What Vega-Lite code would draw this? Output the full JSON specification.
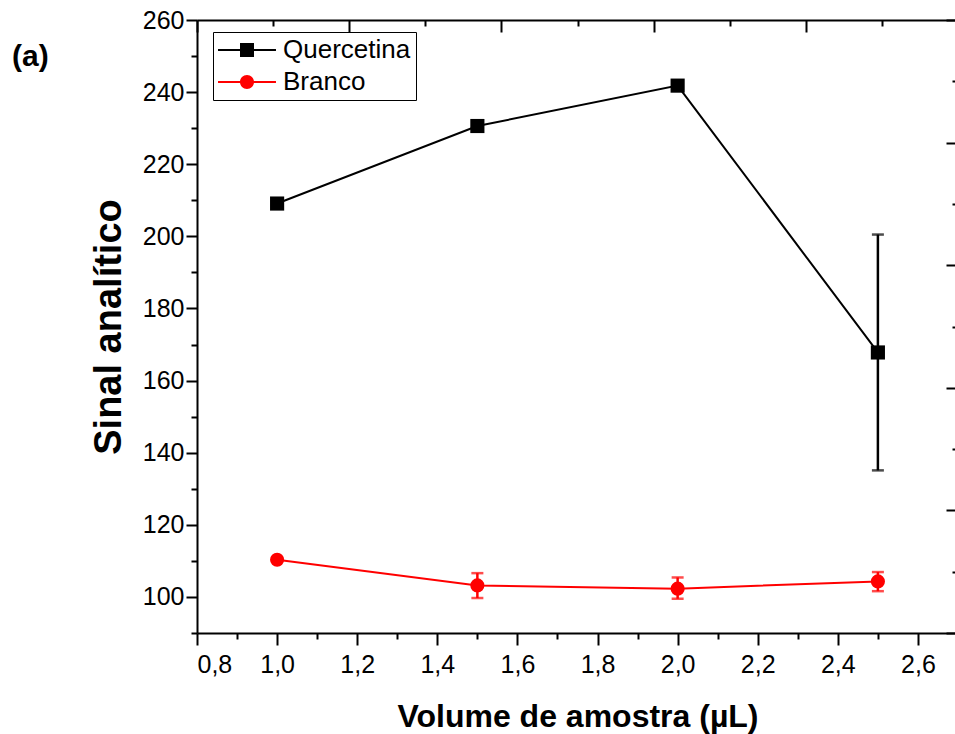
{
  "$schema": "https://vega.github.io/schema/vega-lite/v6.json",
  "width": 761,
  "height": 613,
  "autosize": {"type": "none"},
  "padding": {"left": 197, "top": 20, "right": -3, "bottom": 101},
  "background": "white",
  "title": {"text": "(a)", "anchor": "start", "frame": "group", "fontSize": 30, "fontWeight": "bold", "font": "Liberation Sans", "color": "black", "dx": -185, "dy": 88, "offset": 0, "baseline": "alphabetic"},
  "config": {
    "view": {"stroke": null},
    "font": "Liberation Sans",
    "axis": {"domainColor": "black", "domainWidth": 2, "tickColor": "black", "tickWidth": 2, "grid": false, "labelColor": "black", "labelFont": "Liberation Sans", "labelFontSize": 25, "titleColor": "black", "titleFont": "Liberation Sans", "titleFontWeight": "bold"},
    "legend": {"padding": 5, "labelFontSize": 26, "labelFont": "Liberation Sans", "labelColor": "black", "symbolSize": 196, "symbolOpacity": 1, "symbolStrokeWidth": 0, "symbolOffset": 16, "labelOffset": 23, "rowPadding": 6, "strokeColor": "black", "fillColor": "white", "cornerRadius": 0, "labelLimit": 0}
  },
  "data": {"values": [
    {"x": 1.0, "y": 209.1, "serie": "Quercetina"},
    {"x": 1.5, "y": 230.6, "serie": "Quercetina"},
    {"x": 2.0, "y": 241.8, "serie": "Quercetina"},
    {"x": 2.5, "y": 167.8, "lo": 135.1, "hi": 200.5, "serie": "Quercetina"},
    {"x": 1.0, "y": 110.3, "serie": "Branco"},
    {"x": 1.5, "y": 103.2, "lo": 99.7, "hi": 106.6, "serie": "Branco"},
    {"x": 2.0, "y": 102.3, "lo": 99.5, "hi": 105.4, "serie": "Branco"},
    {"x": 2.5, "y": 104.3, "lo": 101.6, "hi": 106.9, "serie": "Branco"}
  ]},
  "layer": [
    {
      "encoding": {
        "x": {"field": "x", "type": "quantitative", "scale": {"domain": [0.8, 2.7], "nice": false, "zero": false},
          "axis": {"values": [0.8, 0.9, 1.0, 1.1, 1.2, 1.3, 1.4, 1.5, 1.6, 1.7, 1.8, 1.9, 2.0, 2.1, 2.2, 2.3, 2.4, 2.5, 2.6, 2.7],
            "labelExpr": "round(datum.value*10) % 2 === 0 ? replace(format(datum.value, '.1f'), '.', ',') : ''",
            "tickSize": {"condition": {"test": "round(datum.value*10) % 2 === 0", "value": 12}, "value": 6},
            "labelPadding": 7, "title": "Volume de amostra (µL)", "titleFontSize": 32, "titlePadding": 24}},
        "y": {"field": "y", "type": "quantitative", "scale": {"domain": [90, 260], "nice": false, "zero": false},
          "axis": {"values": [90, 100, 110, 120, 130, 140, 150, 160, 170, 180, 190, 200, 210, 220, 230, 240, 250, 260],
            "labelExpr": "datum.value % 20 === 0 ? datum.label : ''",
            "tickSize": {"condition": {"test": "datum.value % 20 === 0", "value": 11}, "value": 6},
            "labelPadding": 2, "title": "Sinal analítico", "titleFontSize": 38, "titlePadding": 14}}
      },
      "layer": [
        {
          "mark": {"type": "rule", "strokeWidth": 2.5},
          "encoding": {
            "y": {"field": "lo", "type": "quantitative"},
            "y2": {"field": "hi"},
            "color": {"condition": {"test": "datum.serie === 'Branco'", "value": "#ff0000"}, "value": "black"}
          }
        },
        {
          "mark": {"type": "tick", "orient": "horizontal", "size": 12, "thickness": 2.5},
          "encoding": {
            "y": {"field": "lo", "type": "quantitative"},
            "color": {"condition": {"test": "datum.serie === 'Branco'", "value": "#ff0000"}, "value": "black"}
          }
        },
        {
          "mark": {"type": "tick", "orient": "horizontal", "size": 12, "thickness": 2.5},
          "encoding": {
            "y": {"field": "hi", "type": "quantitative"},
            "color": {"condition": {"test": "datum.serie === 'Branco'", "value": "#ff0000"}, "value": "black"}
          }
        },
        {
          "mark": {"type": "line", "strokeWidth": 2},
          "encoding": {
            "detail": {"field": "serie", "type": "nominal"},
            "color": {"condition": {"test": "datum.serie === 'Branco'", "value": "#ff0000"}, "value": "black"}
          }
        },
        {
          "mark": {"type": "point", "filled": true, "opacity": 1, "size": 200, "strokeWidth": 0},
          "encoding": {
            "shape": {"condition": {"test": "datum.serie === 'Branco'", "value": "circle"}, "value": "square"},
            "color": {"condition": {"test": "datum.serie === 'Branco'", "value": "#ff0000"}, "value": "black"}
          }
        },
        {
          "transform": [{"filter": "datum.serie === 'nenhum'"}],
          "mark": {"type": "point", "filled": true, "size": 196},
          "encoding": {
            "color": {"field": "serie", "type": "nominal", "scale": {"domain": ["Quercetina", "Branco"], "range": ["black", "#ff0000"]},
              "legend": {"title": null, "orient": "none", "legendX": 16, "legendY": 12}},
            "shape": {"field": "serie", "type": "nominal", "scale": {"domain": ["Quercetina", "Branco"],
              "range": ["M-4.14,-0.14H4.14V0.14H-4.14Z M-1,-1H1V1H-1Z", "M-4.14,-0.14H4.14V0.14H-4.14Z M-1,0A1,1,0,1,1,1,0A1,1,0,1,1,-1,0Z"]},
              "legend": {"title": null, "orient": "none", "legendX": 16, "legendY": 12}}
          }
        }
      ]
    },
    {
      "mark": {"type": "point", "opacity": 0, "clip": true},
      "encoding": {
        "x": {"field": "x", "type": "quantitative", "scale": {"domain": [0, 5], "nice": false, "zero": false},
          "axis": {"orient": "top", "values": [0, 0.5, 1, 1.5, 2, 2.5, 3, 3.5, 4, 4.5, 5], "labels": false, "title": null,
            "tickSize": {"condition": {"test": "datum.value % 1 === 0", "value": -12}, "value": -6}}},
        "y": {"field": "y", "type": "quantitative", "scale": {"domain": [0, 5], "nice": false, "zero": false},
          "axis": {"orient": "right", "values": [0, 0.5, 1, 1.5, 2, 2.5, 3, 3.5, 4, 4.5, 5], "labels": false, "title": null,
            "tickSize": {"condition": {"test": "datum.value % 1 === 0", "value": -12}, "value": -6}}}
      }
    }
  ],
  "resolve": {"scale": {"x": "independent", "y": "independent"}}
}
